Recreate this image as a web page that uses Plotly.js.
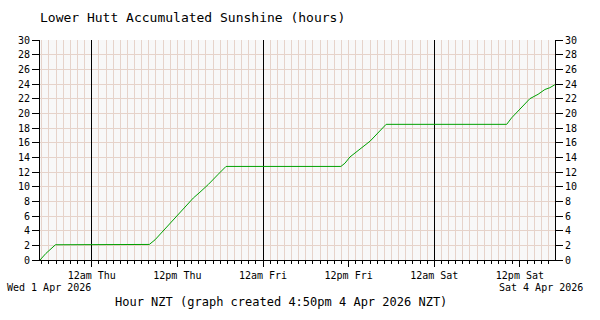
<!DOCTYPE html>
<html><head><meta charset="utf-8">
<script src="https://cdn.plot.ly/plotly-3.0.1.min.js"></script>
<style>body{margin:0;background:#fff}#c{width:600px;height:320px}</style>
</head><body><div id="c"></div>
<script>
var times = ['2026-04-01 16:45','2026-04-01 17:35','2026-04-01 18:55','2026-04-02 08:04','2026-04-02 08:52','2026-04-02 10:01','2026-04-02 11:54','2026-04-02 14:14','2026-04-02 15:10','2026-04-02 16:20','2026-04-02 17:44','2026-04-02 18:49','2026-04-03 10:55','2026-04-03 11:29','2026-04-03 12:11','2026-04-03 14:03','2026-04-03 15:00','2026-04-03 17:15','2026-04-04 10:09','2026-04-04 10:50','2026-04-04 13:24','2026-04-04 14:33','2026-04-04 15:30','2026-04-04 16:12','2026-04-04 16:54'];
var sunshine = [0,0.9,2.08,2.12,2.75,3.95,5.9,8.45,9.25,10.3,11.7,12.76,12.76,13.2,14.05,15.4,16.2,18.5,18.5,19.38,22.0,22.6,23.25,23.5,23.9];
var majorTickTimes = ['2026-04-02 00:00','2026-04-02 12:00','2026-04-03 00:00','2026-04-03 12:00','2026-04-04 00:00','2026-04-04 12:00'];
var majorTickLabels = ['12am Thu','12pm Thu','12am Fri','12pm Fri','12am Sat','12pm Sat'];
var xRange = ['2026-04-01 16:45','2026-04-04 16:55'];
var yRange = [0, 30];

var FONT = 'DejaVu Sans Mono, Liberation Mono, monospace';
var grid = '#e6d3ca';

var traces = [
  {x: times, y: sunshine, type: 'scatter', mode: 'lines', line: {color: '#00a000', width: 1}, hoverinfo: 'skip', xaxis: 'x', yaxis: 'y'},
  {x: [], y: [], type: 'scatter', xaxis: 'x2', yaxis: 'y', hoverinfo: 'skip'},
  {x: [], y: [], type: 'scatter', xaxis: 'x3', yaxis: 'y', hoverinfo: 'skip'},
  {x: [], y: [], type: 'scatter', xaxis: 'x', yaxis: 'y2', hoverinfo: 'skip'}
];

var baseX = {type: 'date', range: xRange, zeroline: false, fixedrange: true};
var layout = {
  width: 600, height: 320,
  margin: {l: 40, r: 45, t: 40, b: 60},
  paper_bgcolor: '#ffffff', plot_bgcolor: '#f8f8f8',
  showlegend: false,
  font: {family: FONT, size: 10, color: '#000'},
  title: {text: 'Lower Hutt Accumulated Sunshine (hours)', font: {family: FONT, size: 13, color: '#000'},
          x: 0, xref: 'paper', xanchor: 'left', y: 0.947, yref: 'container', yanchor: 'middle'},
  xaxis: Object.assign({}, baseX, {
    tick0: '2026-04-01 00:00', dtick: 3600000, showticklabels: false,
    ticks: 'outside', ticklen: 3, tickcolor: '#000', tickwidth: 1,
    showgrid: true, gridcolor: grid, gridwidth: 1,
    showline: true, linecolor: '#000', linewidth: 1
  }),
  xaxis2: Object.assign({}, baseX, {
    overlaying: 'x', anchor: 'y', side: 'bottom',
    tickmode: 'array', tickvals: majorTickTimes, ticktext: majorTickLabels,
    ticks: 'outside', ticklen: 6, tickcolor: '#000', tickwidth: 1,
    tickfont: {family: FONT, size: 10, color: '#000'},
    showgrid: false, showline: false
  }),
  xaxis3: Object.assign({}, baseX, {
    overlaying: 'x', anchor: 'y', side: 'bottom',
    tick0: '2026-04-01 00:00', dtick: 86400000, showticklabels: false, ticks: '',
    showgrid: true, gridcolor: '#000000', gridwidth: 1, showline: false
  }),
  yaxis: {
    range: yRange, dtick: 2, tick0: 0, fixedrange: true,
    ticks: 'outside', ticklen: 7, tickcolor: '#000',
    showgrid: true, gridcolor: grid, zeroline: false,
    showline: true, linecolor: '#000', linewidth: 1,
    tickfont: {family: FONT, size: 10, color: '#000'}
  },
  yaxis2: {
    range: yRange, dtick: 2, tick0: 0, fixedrange: true,
    overlaying: 'y', side: 'right', anchor: 'x',
    ticks: 'outside', ticklen: 7, tickcolor: '#000',
    showgrid: false, zeroline: false,
    showline: true, linecolor: '#000', linewidth: 1,
    tickfont: {family: FONT, size: 10, color: '#000'}
  },
  annotations: [
    {text: 'Wed 1 Apr 2026', xref: 'paper', yref: 'paper', x: -0.068, y: -0.123, xanchor: 'left', yanchor: 'middle', showarrow: false, font: {family: FONT, size: 10, color: '#000'}},
    {text: 'Sat 4 Apr 2026', xref: 'paper', yref: 'paper', x: 1.058, y: -0.123, xanchor: 'right', yanchor: 'middle', showarrow: false, font: {family: FONT, size: 10, color: '#000'}},
    {text: 'Hour NZT (graph created 4:50pm 4 Apr 2026 NZT)', xref: 'paper', yref: 'paper', x: 0.1417, y: -0.19, xanchor: 'left', yanchor: 'middle', showarrow: false, font: {family: FONT, size: 12, color: '#000'}}
  ]
};

Plotly.newPlot('c', traces, layout, {staticPlot: true, displayModeBar: false});
</script>
</body></html>
